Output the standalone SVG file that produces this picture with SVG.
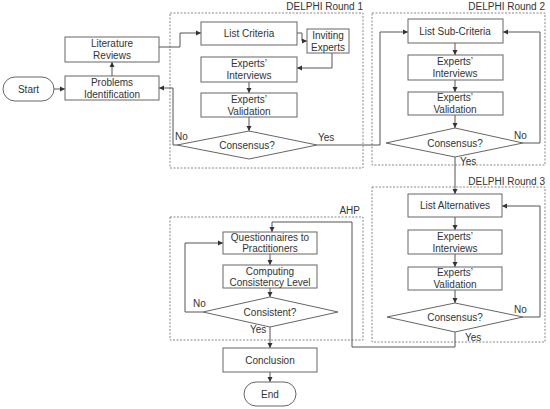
<svg xmlns="http://www.w3.org/2000/svg" width="550" height="409" viewBox="0 0 550 409">
<style>
text{font-family:"Liberation Sans",Arial,sans-serif;font-size:10px;fill:#333;}
.c{text-anchor:middle;}
.r{text-anchor:end;}
.b{fill:#fff;stroke:#666;stroke-width:1;}
.g{fill:none;stroke:#888;stroke-width:1;stroke-dasharray:2,1.5;}
.l{fill:none;stroke:#555;stroke-width:1;}
</style>
<defs>
<marker id="a" markerWidth="6" markerHeight="6" refX="5" refY="3" orient="auto" markerUnits="userSpaceOnUse">
<path d="M0,0.5 L5,3 L0,5.5 Z" fill="#333"/>
</marker>
</defs>
<rect width="550" height="409" fill="#fff"/>
<g id="groups">
<rect class="g" x="170" y="13" width="193" height="155"/>
<text class="r" x="363" y="10">DELPHI Round 1</text>
<rect class="g" x="372" y="13" width="173" height="152"/>
<text class="r" x="545" y="10">DELPHI Round 2</text>
<rect class="g" x="372" y="187" width="173" height="155"/>
<text class="r" x="545" y="185">DELPHI Round 3</text>
<rect class="g" x="170" y="217" width="193" height="123"/>
<text class="r" x="360" y="214">AHP</text>
</g>
<g id="connectors">
<path class="l" d="M54,89 H65" marker-end="url(#a)"/>
<path class="l" d="M112,76 V62" marker-end="url(#a)"/>
<path class="l" d="M159,47 H180 V33 H201" marker-end="url(#a)"/>
<path class="l" d="M297,33 H302 V41 H307" marker-end="url(#a)"/>
<path class="l" d="M332,53 V68 H297" marker-end="url(#a)"/>
<path class="l" d="M249,82 V93" marker-end="url(#a)"/>
<path class="l" d="M249,117 V131" marker-end="url(#a)"/>
<path class="l" d="M177,145 H173 V88 H159" marker-end="url(#a)"/>
<path class="l" d="M317,145 H380 V32 H408" marker-end="url(#a)"/>
<path class="l" d="M455,43 V55" marker-end="url(#a)"/>
<path class="l" d="M455,80 V92" marker-end="url(#a)"/>
<path class="l" d="M455,115 V128" marker-end="url(#a)"/>
<path class="l" d="M523,143 H540 V32 H503" marker-end="url(#a)"/>
<path class="l" d="M455,157 V194" marker-end="url(#a)"/>
<path class="l" d="M455,217 V230" marker-end="url(#a)"/>
<path class="l" d="M455,254 V267" marker-end="url(#a)"/>
<path class="l" d="M455,290 V303" marker-end="url(#a)"/>
<path class="l" d="M523,317 H540 V206 H502" marker-end="url(#a)"/>
<path class="l" d="M455,332 V347 H352 V222 H272 V232" marker-end="url(#a)"/>
<path class="l" d="M270,254 V265" marker-end="url(#a)"/>
<path class="l" d="M270,288 V297" marker-end="url(#a)"/>
<path class="l" d="M203,312 H185 V243 H223" marker-end="url(#a)"/>
<path class="l" d="M270,327 V348" marker-end="url(#a)"/>
<path class="l" d="M270,372 V382" marker-end="url(#a)"/>
<text x="175" y="140">No</text>
<text x="318" y="141">Yes</text>
<text x="514" y="139">No</text>
<text x="460" y="165">Yes</text>
<text x="514" y="313">No</text>
<text x="465" y="341">Yes</text>
<text x="193" y="307">No</text>
<text x="250" y="333">Yes</text>
</g>
<g id="start"><rect class="b" x="3" y="77" width="51" height="24" rx="12"/><text class="c" x="28.5" y="93">Start</text></g>
<g id="problems"><rect class="b" x="65" y="76" width="94" height="24"/><text class="c" x="112" y="86">Problems</text><text class="c" x="112" y="98">Identification</text></g>
<g id="literature"><rect class="b" x="65" y="37" width="94" height="25"/><text class="c" x="112" y="47">Literature</text><text class="c" x="112" y="59">Reviews</text></g>
<g id="list-criteria"><rect class="b" x="201" y="22" width="96" height="23"/><text class="c" x="249" y="37">List Criteria</text></g>
<g id="inviting"><rect class="b" x="307" y="29" width="42" height="24"/><text class="c" x="328" y="39">Inviting</text><text class="c" x="328" y="51">Experts</text></g>
<g id="r1-interviews"><rect class="b" x="201" y="57" width="96" height="25"/><text class="c" x="249" y="67">Experts’</text><text class="c" x="249" y="79">Interviews</text></g>
<g id="r1-validation"><rect class="b" x="201" y="93" width="96" height="24"/><text class="c" x="249" y="103">Experts’</text><text class="c" x="249" y="115">Validation</text></g>
<g id="r1-consensus"><polygon class="b" points="249,131 317,145 249,159 177,145"/><text class="c" x="247" y="149">Consensus?</text></g>
<g id="list-sub"><rect class="b" x="408" y="19" width="95" height="24"/><text class="c" x="455" y="35">List Sub-Criteria</text></g>
<g id="r2-interviews"><rect class="b" x="408" y="55" width="95" height="25"/><text class="c" x="455" y="65">Experts’</text><text class="c" x="455" y="77">Interviews</text></g>
<g id="r2-validation"><rect class="b" x="408" y="92" width="95" height="23"/><text class="c" x="455" y="101">Experts’</text><text class="c" x="455" y="113">Validation</text></g>
<g id="r2-consensus"><polygon class="b" points="455,128 523,143 455,157 386,143"/><text class="c" x="455" y="147">Consensus?</text></g>
<g id="list-alt"><rect class="b" x="408" y="194" width="94" height="23"/><text class="c" x="455" y="209">List Alternatives</text></g>
<g id="r3-interviews"><rect class="b" x="408" y="230" width="94" height="24"/><text class="c" x="455" y="240">Experts’</text><text class="c" x="455" y="252">Interviews</text></g>
<g id="r3-validation"><rect class="b" x="408" y="267" width="94" height="23"/><text class="c" x="455" y="276">Experts’</text><text class="c" x="455" y="288">Validation</text></g>
<g id="r3-consensus"><polygon class="b" points="455,303 523,317 455,332 387,317"/><text class="c" x="455" y="321">Consensus?</text></g>
<g id="questionnaires"><rect class="b" x="223" y="232" width="94" height="22"/><text class="c" x="270" y="241">Questionnaires to</text><text class="c" x="270" y="252">Practitioners</text></g>
<g id="computing"><rect class="b" x="223" y="265" width="94" height="23"/><text class="c" x="270" y="275">Computing</text><text class="c" x="270" y="286">Consistency Level</text></g>
<g id="consistent"><polygon class="b" points="270,297 338,312 270,327 203,312"/><text class="c" x="270" y="316">Consistent?</text></g>
<g id="conclusion"><rect class="b" x="223" y="348" width="94" height="24"/><text class="c" x="270" y="364">Conclusion</text></g>
<g id="end"><rect class="b" x="244" y="382" width="52" height="24" rx="12"/><text class="c" x="270" y="398">End</text></g>
</svg>
